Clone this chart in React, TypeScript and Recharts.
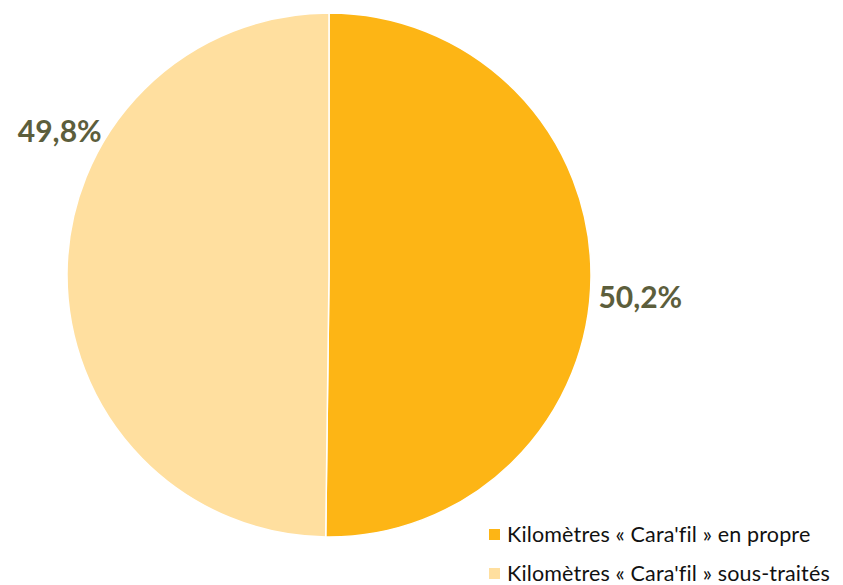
import { Cell, Pie, PieChart } from 'recharts';

const categories = ['Kilomètres « Cara\'fil » en propre', 'Kilomètres « Cara\'fil » sous-traités'];
const shares = [50.2, 49.8];
const sliceLabels = ['50,2%', '49,8%'];
const COLORS = ['#FDB515', '#FFDF9F'];

const data = categories.map((name, i) => ({ name, value: shares[i], label: sliceLabels[i] }));

const FONT = 'Lato, "Noto Sans", sans-serif';
const RAD = Math.PI / 180;
// Excel nudges the labels away from the mid-angle
const LABEL_TURN = [-3.5, -28];
const LABEL_GAP = [50, 44];

function renderLabel(props: any) {
  const { cx, cy, midAngle, outerRadius, index } = props;
  const a = (midAngle + LABEL_TURN[index]) * RAD;
  const r = outerRadius + LABEL_GAP[index];
  const x = cx + r * Math.cos(a);
  const y = cy - r * Math.sin(a);
  return (
    <text
      x={x}
      y={y}
      fill="#5C5E3C"
      fontFamily={FONT}
      fontWeight={700}
      fontSize={30}
      textAnchor="middle"
      dominantBaseline="central"
    >
      {data[index].label}
    </text>
  );
}

export default function App() {
  return (
    <div style={{ position: 'absolute', left: 0, top: 0, width: 843, height: 585, background: '#fff', overflow: 'hidden' }}>
      <PieChart width={843} height={585} margin={{ top: 0, right: 0, bottom: 0, left: 0 }}>
        <Pie
          data={data}
          dataKey="value"
          nameKey="name"
          cx={329}
          cy={275}
          outerRadius={262}
          startAngle={90}
          endAngle={-270}
          stroke="#fff"
          strokeWidth={1.5}
          label={renderLabel}
          labelLine={false}
          isAnimationActive={false}
        >
          {data.map((d, i) => (
            <Cell key={i} fill={COLORS[i]} />
          ))}
        </Pie>
      </PieChart>
      <ul
        style={{
          position: 'absolute',
          left: 489,
          top: 521,
          listStyle: 'none',
          margin: 0,
          padding: 0,
          fontFamily: FONT,
          fontSize: 21.5,
          lineHeight: '26px',
          letterSpacing: 0.15,
          color: '#111',
          whiteSpace: 'nowrap',
        }}
      >
        {data.map((d, i) => (
          <li key={i} style={{ display: 'flex', alignItems: 'center', height: 26, marginBottom: i === 0 ? 13 : 0 }}>
            <span style={{ width: 11, height: 11, background: COLORS[i], marginRight: 7, flexShrink: 0 }} />
            <span>{d.name}</span>
          </li>
        ))}
      </ul>
    </div>
  );
}
